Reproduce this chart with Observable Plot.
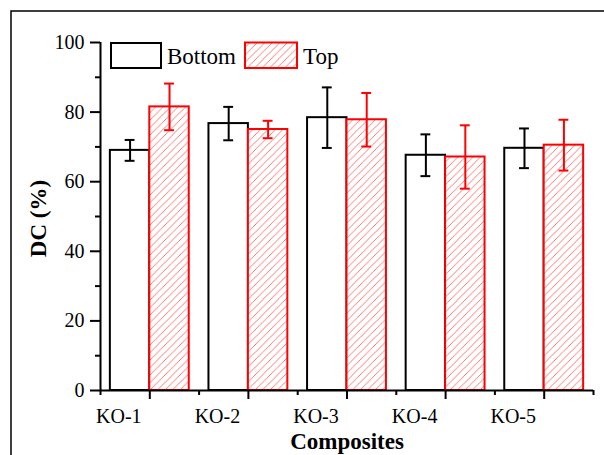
<!DOCTYPE html>
<html>
<head>
<meta charset="utf-8">
<script src="https://cdn.jsdelivr.net/npm/d3@7"></script>
<script src="https://cdn.jsdelivr.net/npm/@observablehq/plot@0.6"></script>
<style>
  html, body { margin: 0; padding: 0; background: white; }
  #chart { position: relative; width: 604px; height: 455px; overflow: hidden; }
  #chart svg { position: absolute; left: 0; top: 0; overflow: visible; }
  #chart svg text { font-family: "Liberation Serif", "Times New Roman", serif !important; }
</style>
</head>
<body>
<div id="chart"></div>
<script>
const categories = ["KO-1", "KO-2", "KO-3", "KO-4", "KO-5"];
const seriesNames = ["Bottom", "Top"];
const bottomMean = [69.0, 76.7, 78.4, 67.6, 69.6];
const bottomErr  = [3.0, 4.8, 8.7, 6.0, 5.7];
const topMean    = [81.5, 75.0, 77.8, 67.1, 70.5];
const topErr     = [6.7, 2.5, 7.7, 9.1, 7.3];
const yTicks = [0, 20, 40, 60, 80, 100];
const yMinorTicks = [10, 30, 50, 70, 90];

const rows = categories.map((c, i) => ({
  cat: c, pos: i + 1,
  bottom: bottomMean[i], bottomErr: bottomErr[i],
  top: topMean[i], topErr: topErr[i]
}));
const half = 0.4;   // bar width in band units
const cap = 0.05;   // error-cap half width
const bounds = [0.5, ...rows.map(d => d.pos + 0.5)];
const font = "Liberation Serif";

const plot = Plot.plot({
  width: 604, height: 455,
  marginLeft: 100, marginRight: 11, marginTop: 42, marginBottom: 65,
  x: {domain: [0.5, rows.length + 0.5]},
  y: {domain: [0, 100]},
  style: {fontFamily: font, background: "white", color: "black", overflow: "visible"},
  marks: [
    Plot.rectY(rows, {x1: d => d.pos - half, x2: d => d.pos, y1: 0, y2: "bottom",
      fill: "white", stroke: "black", strokeWidth: 2}),
    Plot.rectY(rows, {x1: d => d.pos, x2: d => d.pos + half, y1: 0, y2: "top",
      fill: "url(#hatch)", stroke: "red", strokeWidth: 2}),
    Plot.ruleX(rows, {x: d => d.pos - half / 2, y1: d => d.bottom - d.bottomErr, y2: d => d.bottom + d.bottomErr,
      stroke: "black", strokeWidth: 2}),
    Plot.ruleY(rows, {y: d => d.bottom + d.bottomErr, x1: d => d.pos - half / 2 - cap, x2: d => d.pos - half / 2 + cap,
      stroke: "black", strokeWidth: 2}),
    Plot.ruleY(rows, {y: d => d.bottom - d.bottomErr, x1: d => d.pos - half / 2 - cap, x2: d => d.pos - half / 2 + cap,
      stroke: "black", strokeWidth: 2}),
    Plot.ruleX(rows, {x: d => d.pos + half / 2, y1: d => d.top - d.topErr, y2: d => d.top + d.topErr,
      stroke: "red", strokeWidth: 2}),
    Plot.ruleY(rows, {y: d => d.top + d.topErr, x1: d => d.pos + half / 2 - cap, x2: d => d.pos + half / 2 + cap,
      stroke: "red", strokeWidth: 2}),
    Plot.ruleY(rows, {y: d => d.top - d.topErr, x1: d => d.pos + half / 2 - cap, x2: d => d.pos + half / 2 + cap,
      stroke: "red", strokeWidth: 2}),
    Plot.axisY({ticks: yTicks, tickSize: 10, tickPadding: 6, fontSize: 20, fontFamily: font, strokeWidth: 2, label: null}),
    Plot.axisY({ticks: yMinorTicks, tickSize: 5, text: null, strokeWidth: 2, label: null}),
    Plot.axisX({ticks: rows.map(d => d.pos), tickSize: 9, text: null, strokeWidth: 2, label: null}),
    Plot.axisX({ticks: bounds, tickSize: 5, text: null, strokeWidth: 2, label: null}),
    Plot.axisX({ticks: rows.map(d => d.pos), tickSize: 0, tickPadding: 18, dx: -31, fontSize: 20, fontFamily: font,
      tickFormat: p => categories[p - 1], label: null}),
    Plot.ruleX([0.5], {y1: 0, y2: 100, strokeWidth: 2}),
    Plot.ruleY([0], {x1: 0.5, x2: rows.length + 0.5, strokeWidth: 2}),
    Plot.text(["Composites"], {frameAnchor: "bottom", lineAnchor: "middle", textAnchor: "middle", dy: 51, text: d => d,
      fontSize: 23, fontWeight: "bold", fontFamily: font}),
    Plot.text(["DC (%)"], {frameAnchor: "left", lineAnchor: "middle", textAnchor: "middle", rotate: -90, dx: -62, dy: 2,
      text: d => d, fontSize: 23, fontWeight: "bold", fontFamily: font})
  ]
});

const svg = d3.select(plot);
const defs = svg.insert("defs", ":first-child");
const pat = defs.append("pattern").attr("id", "hatch")
  .attr("patternUnits", "userSpaceOnUse").attr("width", 7.5).attr("height", 7.5);
pat.append("rect").attr("width", 7.5).attr("height", 7.5).attr("fill", "white");
pat.append("path").attr("d", "M-1,1 L1,-1 M0,7.5 L7.5,0 M6.5,8.5 L8.5,6.5")
  .attr("stroke", "#ff6a6a").attr("stroke-width", 0.9);

svg.append("path").attr("d", "M11,455 V11 H604").attr("fill", "none")
  .attr("stroke", "black").attr("stroke-width", 1.5);

const lg = svg.append("g").attr("font-family", font).attr("font-size", 23)
  .attr("fill", "black").attr("text-anchor", "start");
lg.append("rect").attr("x", 111).attr("y", 43).attr("width", 50).attr("height", 25)
  .attr("fill", "white").attr("stroke", "black").attr("stroke-width", 2);
lg.append("text").attr("x", 167).attr("y", 63.5).text(seriesNames[0]);
lg.append("rect").attr("x", 245).attr("y", 42.5).attr("width", 52).attr("height", 25.5)
  .attr("fill", "url(#hatch)").attr("stroke", "red").attr("stroke-width", 2);
lg.append("text").attr("x", 303).attr("y", 63.5).text(seriesNames[1]);

document.getElementById("chart").appendChild(plot);
</script>
</body>
</html>
